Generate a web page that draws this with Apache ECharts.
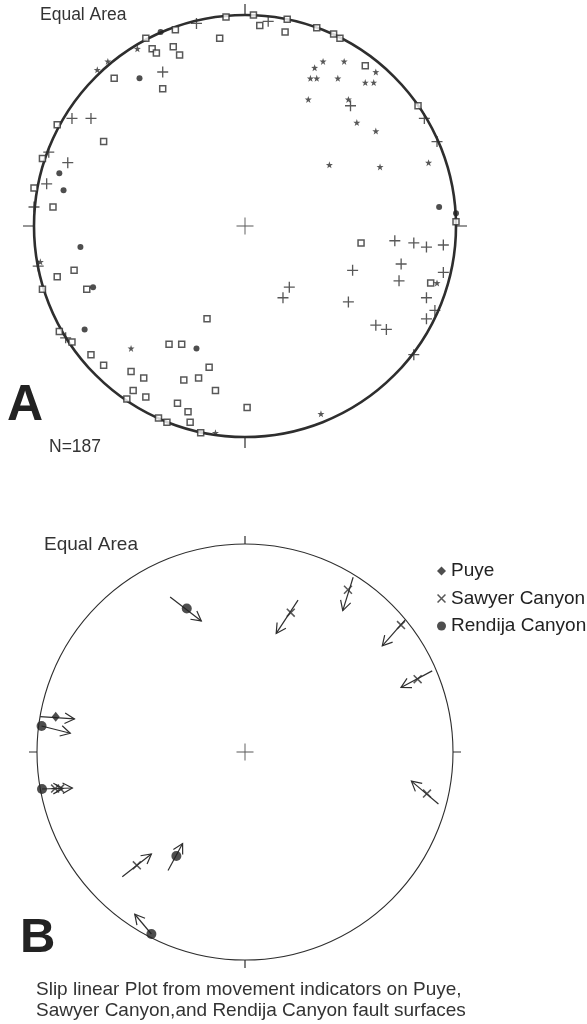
<!DOCTYPE html>
<html>
<head>
<meta charset="utf-8">
<script src="https://cdn.jsdelivr.net/npm/echarts@6/dist/echarts.min.js"></script>
<style>
  html, body { margin: 0; padding: 0; background: #fff; }
  #chart { width: 587px; height: 1024px; }
</style>
</head>
<body>
<div id="chart"></div>
<script>
// stereonet A, positions in unit-circle coordinates (x east, y north)
var aSquares = [
  [-0.09, 0.99], [0.04, 1.00], [0.20, 0.98], [0.07, 0.95], [0.19, 0.92], [-0.33, 0.93],
  [-0.47, 0.89], [-0.12, 0.89], [-0.44, 0.84], [-0.42, 0.82], [-0.34, 0.85], [-0.31, 0.81],
  [-0.62, 0.70], [-0.39, 0.65], [-0.89, 0.48], [-0.67, 0.40], [-0.96, 0.32], [-1.00, 0.18],
  [-0.91, 0.09], [0.34, 0.94], [0.42, 0.91], [0.45, 0.89], [0.57, 0.76], [0.82, 0.57],
  [1.00, 0.02], [-0.81, -0.21], [-0.89, -0.24], [-0.75, -0.30], [-0.96, -0.30], [-0.18, -0.44],
  [-0.88, -0.50], [-0.82, -0.55], [-0.36, -0.56], [-0.30, -0.56], [-0.73, -0.61], [-0.67, -0.66],
  [-0.54, -0.69], [-0.48, -0.72], [-0.17, -0.67], [-0.29, -0.73], [-0.22, -0.72], [-0.53, -0.78],
  [-0.47, -0.81], [-0.14, -0.78], [-0.56, -0.82], [-0.32, -0.84], [-0.27, -0.88], [-0.41, -0.91],
  [-0.37, -0.93], [-0.26, -0.93], [-0.21, -0.98], [0.01, -0.86], [0.55, -0.08], [0.88, -0.27]
];
var aPlus = [
  [-0.23, 0.96], [0.11, 0.97], [-0.39, 0.73], [-0.82, 0.51], [-0.73, 0.51], [-0.84, 0.30],
  [-0.94, 0.20], [-0.93, 0.35], [-1.00, 0.09], [0.50, 0.57], [0.85, 0.51], [0.91, 0.40],
  [-0.98, -0.19], [-0.85, -0.53], [0.21, -0.29], [0.18, -0.34], [0.71, -0.07], [0.80, -0.08],
  [0.86, -0.10], [0.94, -0.09], [0.74, -0.18], [0.51, -0.21], [0.73, -0.26], [0.94, -0.22],
  [0.49, -0.36], [0.86, -0.34], [0.90, -0.40], [0.86, -0.44], [0.62, -0.47], [0.67, -0.49],
  [0.80, -0.61]
];
var aDots = [
  [-0.40, 0.92], [-0.50, 0.70], [-0.88, 0.25], [-0.86, 0.17], [0.92, 0.09], [1.00, 0.06],
  [-0.78, -0.10], [-0.72, -0.29], [-0.76, -0.49], [-0.23, -0.58]
];
var aStars = [
  [-0.51, 0.84], [-0.65, 0.78], [-0.70, 0.74], [0.37, 0.78], [0.47, 0.78], [0.33, 0.75],
  [0.31, 0.70], [0.34, 0.70], [0.44, 0.70], [0.62, 0.73], [0.57, 0.68], [0.61, 0.68],
  [0.30, 0.60], [0.49, 0.60], [0.53, 0.49], [0.62, 0.45], [0.40, 0.29], [0.64, 0.28],
  [0.87, 0.30], [-0.97, -0.17], [-0.54, -0.58], [-0.14, -0.98], [0.91, -0.27], [0.36, -0.89]
];

// stereonet B, slip lineations
var bPuye = [[-0.91, 0.17]];
var bSawyer = [
  [0.22, 0.67], [0.495, 0.78], [0.75, 0.61], [0.83, 0.35], [-0.913, -0.176], [-0.889, -0.176],
  [-0.52, -0.545], [0.875, -0.20]
];
var bRendija = [
  [-0.28, 0.69], [-0.978, 0.125], [-0.976, -0.178], [-0.33, -0.50], [-0.45, -0.875]
];
// arrows: tail x, tail y, head x, head y
var bArrows = [
  [-0.36, 0.745, -0.21, 0.63],
  [0.255, 0.73, 0.15, 0.57],
  [0.52, 0.84, 0.47, 0.68],
  [0.77, 0.635, 0.66, 0.51],
  [0.90, 0.39, 0.75, 0.31],
  [-0.985, 0.17, -0.82, 0.159],
  [-0.978, 0.125, -0.84, 0.09],
  [-0.976, -0.178, -0.83, -0.173],
  [-0.93, -0.176, -0.875, -0.176],
  [-0.59, -0.60, -0.45, -0.49],
  [-0.37, -0.57, -0.30, -0.44],
  [-0.45, -0.875, -0.53, -0.78],
  [0.93, -0.25, 0.80, -0.14]
];

var ink = '#2e2e2e';
var font = '"Liberation Sans", Arial, sans-serif';
var plusPath = 'path://M4.4,0h1.2v10h-1.2zM0,4.4h10v1.2h-10z';
var centerPath = 'path://M9.45,0h1.1v20h-1.1zM0,9.45h20v1.1h-20z';
var starPath = 'path://M5,0L6.18,3.38L9.76,3.45L6.9,5.62L7.94,9.05L5,7L2.06,9.05L3.1,5.62L0.24,3.45L3.82,3.38Z';
var xPath = 'path://M0,1.2L1.2,0L10,8.8L8.8,10ZM8.8,0L10,1.2L1.2,10L0,8.8Z';

var chart = echarts.init(document.getElementById('chart'));

function angleAxis(idx, w, tickLen) {
  return {
    polarIndex: idx, type: 'value', min: 0, max: 360, interval: 90,
    startAngle: 90, clockwise: true,
    axisLine: { lineStyle: { color: ink, width: w } },
    axisTick: { length: tickLen, lineStyle: { color: ink, width: 1.2 } },
    axisLabel: { show: false }, splitLine: { show: false }
  };
}
function unitAxis(idx) {
  return { gridIndex: idx, type: 'value', min: -1, max: 1, show: false };
}
function marks(name, grid, data, symbol, size, style) {
  return {
    name: name, type: 'scatter', xAxisIndex: grid, yAxisIndex: grid, data: data,
    symbol: symbol, symbolSize: size, itemStyle: style, clip: false, silent: true, z: 5
  };
}

var option = {
  animation: false,
  backgroundColor: '#ffffff',
  polar: [
    { center: [245, 226], radius: 211 },
    { center: [245, 752], radius: 208 }
  ],
  angleAxis: [angleAxis(0, 2.6, 11), angleAxis(1, 1.1, 8)],
  radiusAxis: [
    { polarIndex: 0, min: 0, max: 1, show: false },
    { polarIndex: 1, min: 0, max: 1, show: false }
  ],
  grid: [
    { left: 34, top: 15, width: 422, height: 422 },
    { left: 37, top: 544, width: 416, height: 416 }
  ],
  xAxis: [unitAxis(0), unitAxis(1)],
  yAxis: [unitAxis(0), unitAxis(1)],
  legend: {
    orient: 'vertical', left: 432, top: 556, itemGap: 7.5,
    itemWidth: 9, itemHeight: 9, selectedMode: false,
    textStyle: { color: '#222', fontFamily: font, fontSize: 19, lineHeight: 20 },
    data: [
      { name: 'Puye', icon: 'diamond' },
      { name: 'Sawyer Canyon', icon: xPath },
      { name: 'Rendija Canyon', icon: 'circle' }
    ]
  },
  graphic: [
    { type: 'text', left: 40, top: 6, style: { text: 'Equal Area', font: '17.5px ' + font, fill: '#333' } },
    { type: 'text', left: 7, top: 381, style: { text: 'A', font: 'bold 50px ' + font, fill: '#222' } },
    { type: 'text', left: 49, top: 438, style: { text: 'N=187', font: '17.5px ' + font, fill: '#333' } },
    { type: 'text', left: 44, top: 535, style: { text: 'Equal Area', font: '19px ' + font, fill: '#333' } },
    { type: 'text', left: 20, top: 914, style: { text: 'B', font: 'bold 49px ' + font, fill: '#222' } },
    { type: 'text', left: 36, top: 979, style: {
      text: 'Slip linear Plot from movement indicators on Puye,\nSawyer Canyon,and Rendija Canyon fault surfaces',
      font: '19px ' + font, lineHeight: 21.5, fill: '#333' } }
  ],
  series: [
    marks('centerA', 0, [[0, 0]], centerPath, 17, { color: ink }),
    marks('squares', 0, aSquares, 'rect', 6, { color: '#fff', borderColor: ink, borderWidth: 1.5 }),
    marks('plus', 0, aPlus, plusPath, 11, { color: ink }),
    marks('dots', 0, aDots, 'circle', 6, { color: '#222' }),
    marks('stars', 0, aStars, starPath, 7, { color: ink }),
    marks('centerB', 1, [[0, 0]], centerPath, 17, { color: ink }),
    {
      name: 'arrows', type: 'custom', xAxisIndex: 1, yAxisIndex: 1, data: bArrows,
      silent: true, clip: false, z: 4,
      renderItem: function (params, api) {
        var p1 = api.coord([api.value(0), api.value(1)]);
        var p2 = api.coord([api.value(2), api.value(3)]);
        var ang = Math.atan2(p2[1] - p1[1], p2[0] - p1[0]);
        var h = 11, w = 0.5;
        var a1 = [p2[0] - h * Math.cos(ang - w), p2[1] - h * Math.sin(ang - w)];
        var a2 = [p2[0] - h * Math.cos(ang + w), p2[1] - h * Math.sin(ang + w)];
        var st = { stroke: ink, lineWidth: 1.2, fill: null };
        return {
          type: 'group',
          children: [
            { type: 'line', shape: { x1: p1[0], y1: p1[1], x2: p2[0], y2: p2[1] }, style: st },
            { type: 'polyline', shape: { points: [a1, p2, a2] }, style: st }
          ]
        };
      }
    },
    marks('Puye', 1, bPuye, 'diamond', [8, 10], { color: '#222' }),
    marks('Sawyer Canyon', 1, bSawyer, xPath, 9, { color: ink }),
    marks('Rendija Canyon', 1, bRendija, 'circle', 10, { color: '#222' })
  ]
};

chart.setOption(option);
</script>
</body>
</html>
